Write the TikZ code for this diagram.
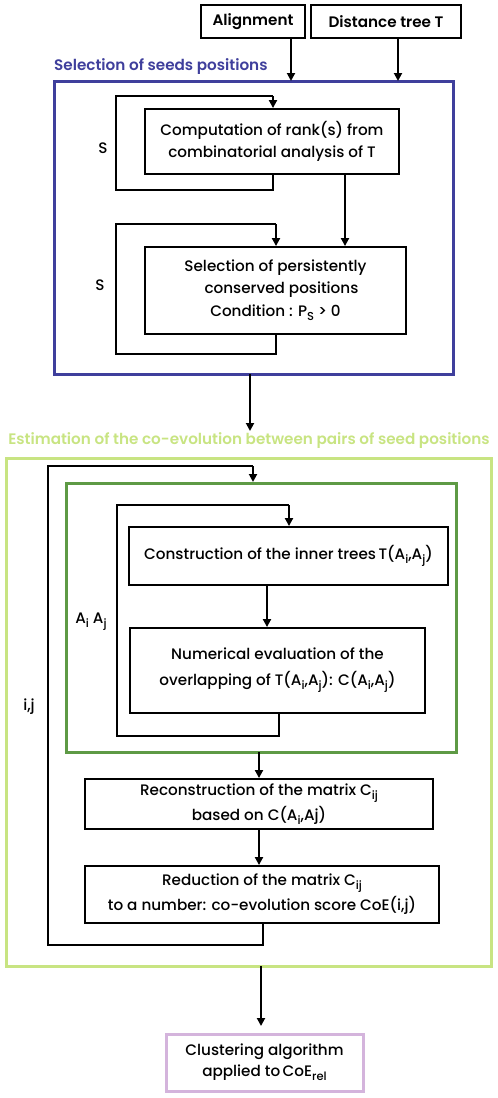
\documentclass[tikz,border=0pt]{standalone}
\usepackage{fontspec}
\setmainfont{Poppins}[UprightFont={* Medium}, BoldFont={* SemiBold}]
\usetikzlibrary{arrows.meta}
\definecolor{seedblue}{HTML}{3F3F9C}
\definecolor{lightgr}{HTML}{C8E482}
\definecolor{darkgr}{HTML}{5E9A45}
\definecolor{purp}{HTML}{D4B4DC}
\newcommand{\lowr}[1]{\raisebox{-0.45ex}{\fontsize{11.5}{12}\selectfont #1}}
\begin{document}
\begin{tikzpicture}[x=1pt,y=-1pt,
  txt/.style={font=\fontsize{15.2}{18}\selectfont, text=black},
  btxt/.style={font=\bfseries\fontsize{15.2}{18}\selectfont},
  box/.style={draw=black, line width=1.9pt},
  link/.style={line width=1.9pt, -{Triangle[length=8pt,width=8pt]}},
  loopline/.style={line width=1.9pt},
  frame/.style={line width=3pt}]
\useasboundingbox (0,0) rectangle (498,1098);
% inputs
\node[box, txt, btxt, minimum width=104pt, minimum height=33pt, inner sep=0pt] (align) at (253,21.5) {Alignment};
\node[box, txt, btxt, minimum width=150pt, minimum height=33pt, inner sep=0pt] (dist) at (386,21.5) {Distance tree T};
% blue frame
\draw[frame, draw=seedblue] (54,81) rectangle (453,374);
\coordinate (bluetopA) at (291,81);
\coordinate (bluetopB) at (398,81);
\node[txt, btxt, text=seedblue, anchor=west, inner sep=0pt] (bluetitle) at (54,67) {Selection of seeds positions};
\draw[link] (align.south -| bluetopA) -- (bluetopA);
\draw[link] (dist.south -| bluetopB) -- (bluetopB);
% computation
\node[box, txt, minimum width=254pt, minimum height=65pt, inner sep=0pt, align=center] (comp) at (272,141.5) {Computation of rank(s) from\\[4pt]combinatorial analysis of T};
\draw[loopline] (273,174) -- (273,190) -- (116,190) -- (116,96) -- (273,96);
\draw[link] (273,96) -- (comp.north -| 273,0);
\node[txt] (s1) at (103,148) {S};
% selection
\node[box, txt, minimum width=261pt, minimum height=87pt, inner sep=0pt, align=center] (sel) at (275.5,290.5) {Selection of persistently\\[4pt]\hspace*{12pt}conserved positions\\[5pt]Condition : P\lowr{S} > 0};
\draw[link] (comp.south -| 345,0) -- (sel.north -| 345,0);
\draw[loopline] (276,334) -- (276,354) -- (116,354) -- (116,224) -- (276,224);
\draw[link] (276,224) -- (sel.north -| 276,0);
\node[txt] (s2) at (100,285) {S};
% green
\coordinate (bluebot) at (250,374);
\node[txt, btxt, text=lightgr] (greentitle) at (249,441) {Estimation of the co-evolution between pairs of seed positions};
\draw[link] (bluebot) -- (250,431);
\draw[frame, draw=lightgr] (6,458) rectangle (491,966);
\draw[frame, draw=darkgr] (66,483) rectangle (456,752);
\draw[loopline] (263,923) -- (263,945) -- (48,945) -- (48,466) -- (253,466);
\draw[link] (253,466) -- (253,482);
\node[txt] (ij) at (29,707) {i,j};
% inner
\node[box, txt, minimum width=319pt, minimum height=58pt, inner sep=0pt] (cons) at (288.5,556) {Construction of the inner trees\,T(A\lowr{i},A\lowr{j})};
\node[box, txt, minimum width=295pt, minimum height=85pt, inner sep=0pt, align=center] (num) at (277.5,670.5) {Numerical evaluation of the\\[8pt]overlapping of T(A\lowr{i},A\lowr{j}): C(A\lowr{i},A\lowr{j})};
\draw[link] (cons.south -| 267,0) -- (num.north -| 267,0);
\draw[loopline] (279,713) -- (279,736) -- (117,736) -- (117,505) -- (289,505);
\draw[link] (289,505) -- (cons.north -| 289,0);
\node[txt] (aiaj) at (91,622) {A\lowr{i} A\lowr{j}};
% recon
\node[box, txt, minimum width=348pt, minimum height=50pt, inner sep=0pt, align=center] (rec) at (259,804) {Reconstruction of the matrix C\lowr{ij}\\[3pt]based on C(A\lowr{i},Aj)};
\draw[link] (259,752) -- (rec.north -| 259,0);
\node[box, txt, minimum width=354pt, minimum height=57pt, inner sep=0pt, align=center] (red) at (262,894.5) {Reduction of the matrix C\lowr{ij}\\[3pt]to a number: co-evolution score CoE(i,j)};
\draw[link] (rec.south -| 259,0) -- (red.north -| 259,0);
% clustering
\coordinate (greenbot) at (261,966);
\node[draw=purp, line width=3pt, txt, minimum width=197pt, minimum height=57pt, inner sep=0pt, align=center] (clu) at (264.5,1062.5) {Clustering algorithm\\[3pt]applied to\,CoE\lowr{rel}};
\draw[link] (greenbot) -- (261,1026);
\end{tikzpicture}
\end{document}
